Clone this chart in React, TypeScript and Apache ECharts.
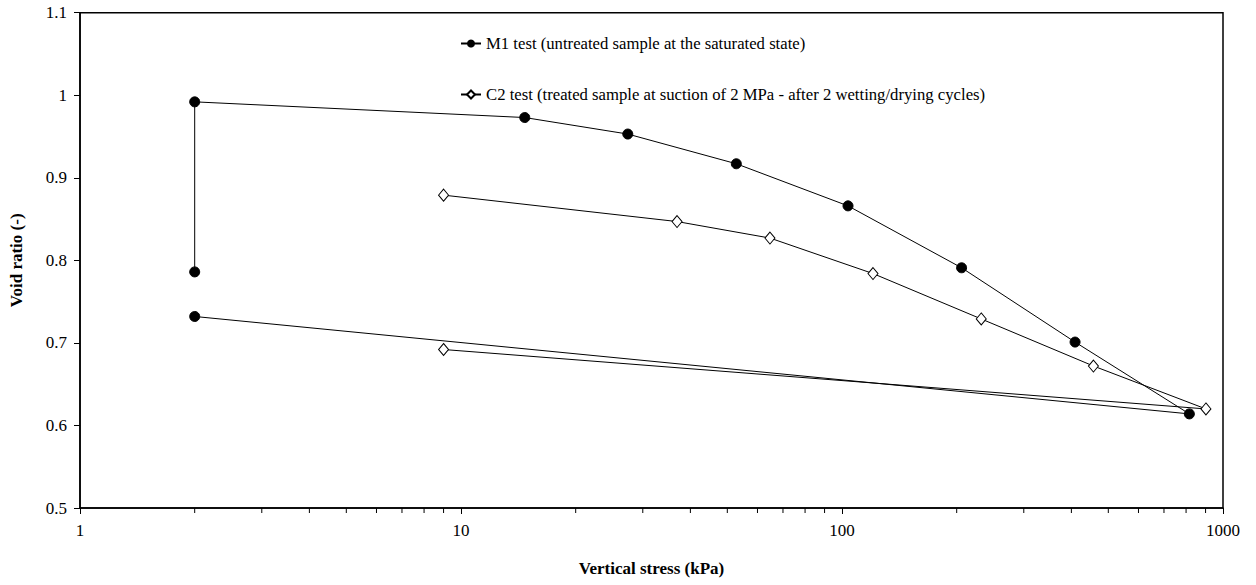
import React, { useEffect, useRef } from "react";
import * as echarts from "echarts";

const m1Name = "M1 test (untreated sample at the saturated state)";
const c2Name = "C2 test (treated sample at suction of 2 MPa - after 2 wetting/drying cycles)";

const m1Stress = [2, 2, 14.7, 27.4, 52.8, 103.7, 206, 409, 816, 2];
const m1Void = [0.786, 0.992, 0.973, 0.953, 0.917, 0.866, 0.791, 0.701, 0.614, 0.732];

const c2Stress = [9, 36.9, 64.7, 120.6, 232, 457, 902, 9];
const c2Void = [0.879, 0.847, 0.827, 0.784, 0.729, 0.672, 0.620, 0.692];

const minorTickValues = [2, 3, 4, 5, 6, 7, 8, 9, 20, 30, 40, 50, 60, 70, 80, 90, 200, 300, 400, 500, 600, 700, 800, 900];

const FONT = "'Liberation Serif', 'Times New Roman', serif";

export default function App() {
  const ref = useRef<HTMLDivElement>(null);
  useEffect(() => {
    if (!ref.current) return;
    const chart = echarts.init(ref.current, null, { renderer: "svg" });
    chart.setOption({
      animation: false,
      backgroundColor: "#fff",
      textStyle: { fontFamily: FONT },
      grid: {
        left: 80,
        right: 33,
        top: 12.7,
        bottom: 77,
        outerBoundsMode: "none",
        containLabel: false,
        show: true,
        borderColor: "#000",
        borderWidth: 1.5,
        backgroundColor: "transparent",
      },
      legend: {
        data: [m1Name, c2Name],
        orient: "vertical",
        left: 460,
        top: 35,
        padding: 0,
        itemGap: 34,
        itemWidth: 20,
        itemHeight: 10,
        textStyle: { fontFamily: FONT, fontSize: 16.7, color: "#000" },
      },
      xAxis: {
        type: "log",
        logBase: 10,
        min: 1,
        max: 1000,
        name: "Vertical stress (kPa)",
        nameLocation: "middle",
        nameGap: 52,
        nameTextStyle: { fontFamily: FONT, fontSize: 17, fontWeight: "bold", color: "#000" },
        axisLine: { lineStyle: { color: "#000", width: 1.5 } },
        axisTick: { show: true, length: 6, lineStyle: { color: "#000" } },
        axisLabel: {
          fontFamily: FONT,
          fontSize: 17,
          color: "#000",
          margin: 14,
          formatter: (v: number) => String(Math.round(v)),
        },
        splitLine: { show: false },
      },
      yAxis: {
        type: "value",
        min: 0.5,
        max: 1.1,
        interval: 0.1,
        name: "Void ratio (-)",
        nameLocation: "middle",
        nameGap: 55,
        nameRotate: 90,
        nameTextStyle: { fontFamily: FONT, fontSize: 17, fontWeight: "bold", color: "#000" },
        axisLine: { show: true, lineStyle: { color: "#000", width: 1.5 } },
        axisTick: { show: true, length: 6, lineStyle: { color: "#000" } },
        axisLabel: {
          fontFamily: FONT,
          fontSize: 17,
          color: "#000",
          margin: 13,
          formatter: (v: number) => String(parseFloat(v.toFixed(1))),
        },
        splitLine: { show: false },
      },
      series: [
        {
          name: m1Name,
          type: "line",
          data: m1Stress.map((x, i) => [x, m1Void[i]]),
          symbol: "circle",
          symbolSize: 10,
          lineStyle: { color: "#000", width: 1 },
          itemStyle: { color: "#000", borderColor: "#000" },
          clip: false,
        },
        {
          name: c2Name,
          type: "line",
          data: c2Stress.map((x, i) => [x, c2Void[i]]),
          symbol: "diamond",
          symbolSize: [10, 12],
          lineStyle: { color: "#000", width: 1 },
          itemStyle: { color: "#fff", borderColor: "#000", borderWidth: 1 },
          clip: false,
        },
        {
          name: "minorTicks",
          type: "custom",
          silent: true,
          clip: false,
          data: minorTickValues.map((v) => [v, 0.5]),
          renderItem: (params: any, api: any) => {
            const p = api.coord([api.value(0), api.value(1)]);
            return {
              type: "line",
              shape: { x1: p[0], y1: p[1], x2: p[0], y2: p[1] + 5 },
              style: { stroke: "#000", lineWidth: 1 },
            };
          },
        },
      ],
    });
    return () => chart.dispose();
  }, []);
  return (
    <div
      ref={ref}
      style={{ position: "fixed", left: 0, top: 0, width: 1256, height: 585 }}
    />
  );
}
